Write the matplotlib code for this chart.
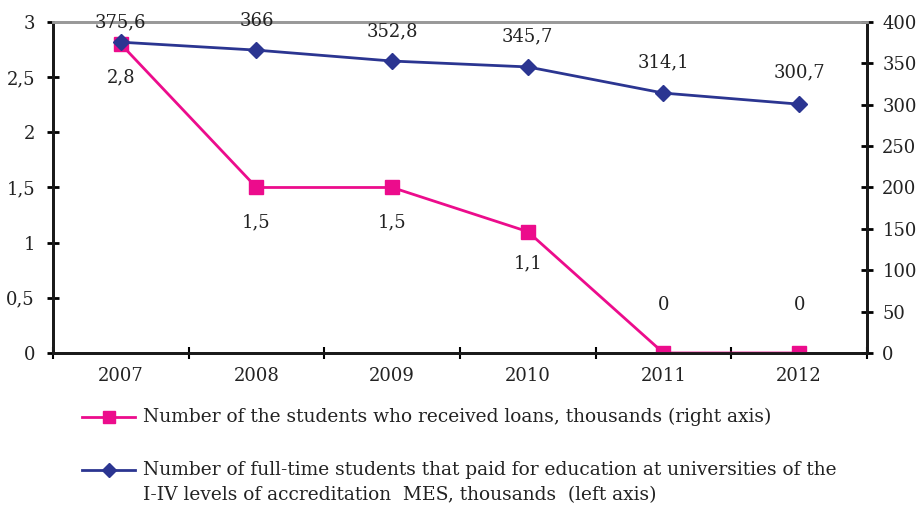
import matplotlib
matplotlib.use("Agg")
import matplotlib.pyplot as plt
from matplotlib.lines import Line2D
from matplotlib.ticker import FuncFormatter

years = ["2007", "2008", "2009", "2010", "2011", "2012"]
loans = [2.8, 1.5, 1.5, 1.1, 0, 0]
students = [375.6, 366, 352.8, 345.7, 314.1, 300.7]
loans_lbl = ["2,8", "1,5", "1,5", "1,1", "0", "0"]
students_lbl = ["375,6", "366", "352,8", "345,7", "314,1", "300,7"]

legend_loans = "Number of the students who received loans, thousands (right axis)"
legend_students = ["Number of full-time students that paid for education at universities of the",
                   "I-IV levels of accreditation  MES, thousands  (left axis)"]

pink = "#EC0C8C"
navy = "#2B3591"
txt = "#222222"

plt.rcParams['font.family'] = ['DejaVu Serif']
plt.rcParams['font.size'] = 12

fig = plt.figure(figsize=(9.23, 5.09), dpi=100)
ax = fig.add_axes([0.0574, 0.3065, 0.8819, 0.6503])
ax2 = ax.twinx()

x = list(range(len(years)))
ax.plot(x, loans, color=pink, lw=2, marker="s", ms=10, zorder=3)
ax2.plot(x, students, color=navy, lw=2, marker="D", ms=8, zorder=3)

ax.set_xlim(-0.5, 5.5)
ax.set_ylim(0, 3)
ax2.set_ylim(0, 400)
ax.set_yticks([0, 0.5, 1, 1.5, 2, 2.5, 3])
ax2.set_yticks(range(0, 401, 50))
ax.yaxis.set_major_formatter(FuncFormatter(lambda v, p: ("%g" % v).replace(".", ",")))
ax.set_xticks([i + 0.5 for i in range(-1, 6)])
ax.set_xticklabels([])
ax.set_xticks(x, minor=True)
ax.set_xticklabels(years, minor=True)
ax.tick_params(axis="x", which="minor", length=0, pad=10, labelsize=13, colors=txt)
ax.tick_params(axis="x", which="major", direction="inout", length=8, width=1.5)
ax.tick_params(axis="y", direction="inout", length=8, width=2, pad=9, labelsize=13, labelcolor=txt)
ax2.tick_params(axis="y", direction="inout", length=8, width=2, pad=7, labelsize=13, labelcolor=txt)

for a in (ax, ax2):
    for s in ("left", "right", "bottom"):
        a.spines[s].set_linewidth(2)
        a.spines[s].set_color("#1a1a1a")
    a.spines["top"].set_color("#999999")
    a.spines["top"].set_linewidth(2)

# point labels (offsets in pixels, tuned by eye)
loan_off = [33, 35, 35, 32, -48, -48]
stud_off = [-20, -29, -30, -31, -31, -32]
for i in x:
    ax.annotate(loans_lbl[i], (i, loans[i]), xytext=(0, -loan_off[i] * 0.72),
                textcoords="offset points", ha="center", va="center", fontsize=13, color=txt)
    ax2.annotate(students_lbl[i], (i, students[i]), xytext=(0, -stud_off[i] * 0.72),
                 textcoords="offset points", ha="center", va="center", fontsize=13, color=txt)

# legend, drawn by hand below the plot
W, H = 923.0, 509.0
fig.add_artist(Line2D([82 / W, 108.5 / W, 135 / W], [1 - 417 / H] * 3, color=pink, lw=2,
                      marker="s", ms=9, markevery=[1], transform=fig.transFigure))
fig.add_artist(Line2D([82 / W, 108.5 / W, 135 / W], [1 - 470 / H] * 3, color=navy, lw=2,
                      marker="D", ms=7, markevery=[1], transform=fig.transFigure))
fig.text(143 / W, 1 - 417 / H, legend_loans, ha="left", va="center", fontsize=13.4, color=txt)
fig.text(143 / W, 1 - 470 / H, legend_students[0], ha="left", va="center", fontsize=13.4, color=txt)
fig.text(143 / W, 1 - 495 / H, legend_students[1], ha="left", va="center", fontsize=13.4, color=txt)

fig.savefig("out.png", dpi=100)
